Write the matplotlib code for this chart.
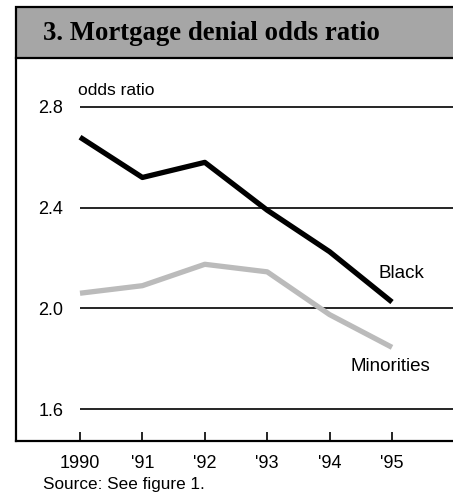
"""Mortgage denial odds ratio, Black vs. minorities, 1990-95."""

import matplotlib.pyplot as plt
from matplotlib.patches import Rectangle

# ── Data ──────────────────────────────────────────────────────────────────────
years = [1990, 1991, 1992, 1993, 1994, 1995]
year_labels = ["1990", "'91", "'92", "'93", "'94", "'95"]
black = [2.68, 2.52, 2.58, 2.39, 2.225, 2.025]
minorities = [2.06, 2.09, 2.175, 2.145, 1.975, 1.845]
y_ticks = [1.6, 2.0, 2.4, 2.8]
y_labels = ["1.6", "2.0", "2.4", "2.8"]

W, H = 453, 493
fig = plt.figure(figsize=(W / 100, H / 100), dpi=100)
plt.rcParams["font.family"] = ["Liberation Sans", "DejaVu Sans"]

def fx(px):
    return px / W

def fy(py):
    return 1 - py / H

# ── Title band ────────────────────────────────────────────────────────────────
fig.patches.append(Rectangle((fx(16), fy(58)), fx(460 - 16), fy(7) - fy(58),
                             transform=fig.transFigure, facecolor="#a6a6a6",
                             edgecolor="black", linewidth=1.6, clip_on=False))
fig.text(fx(43), fy(34), "3. Mortgage denial odds ratio", family="Liberation Serif",
         fontweight="bold", fontsize=19.3, va="center", ha="left")

# ── Axes ──────────────────────────────────────────────────────────────────────
ax = fig.add_axes([fx(16), fy(441), fx(453) - fx(16), fy(58) - fy(441)])
px_per_year = 62.4
xmin = 1990 - (80 - 16) / px_per_year
xmax = xmin + (453 - 16) / px_per_year
px_per_unit = 251.7
ymin = 1.6 - (441 - 409) / px_per_unit
ymax = 2.8 + (107 - 58) / px_per_unit
ax.set_xlim(xmin, xmax)
ax.set_ylim(ymin, ymax)

ax.hlines(y_ticks, 1990, xmax, color="black", linewidth=1.2)
ax.plot(years, black, color="black", linewidth=3.8, solid_capstyle="butt")
ax.plot(years, minorities, color="#bbbbbb", linewidth=3.8, solid_capstyle="butt")

ax.text(1995.15, 2.14, "Black", fontsize=13.5, ha="center", va="center")
ax.text(1994.98, 1.77, "Minorities", fontsize=13.5, ha="center", va="center")
ax.text(1989.97, 2.835, "odds ratio", fontsize=12.5, ha="left", va="bottom")

ax.set_xticks(years)
ax.set_xticklabels(year_labels, fontsize=13)
ax.tick_params(axis="x", direction="in", length=6.5, width=1.2, pad=10)
ax.set_yticks(y_ticks)
ax.set_yticklabels(y_labels, fontsize=13)
ax.tick_params(axis="y", length=0, pad=-34)

for side in ["top", "right"]:
    ax.spines[side].set_visible(False)
ax.spines["bottom"].set_linewidth(1.6)
ax.spines["left"].set_linewidth(1.6)

fig.text(fx(43), fy(485), "Source: See figure 1.", fontsize=12.3, va="center", ha="left")

fig.savefig("out.png", dpi=100)
